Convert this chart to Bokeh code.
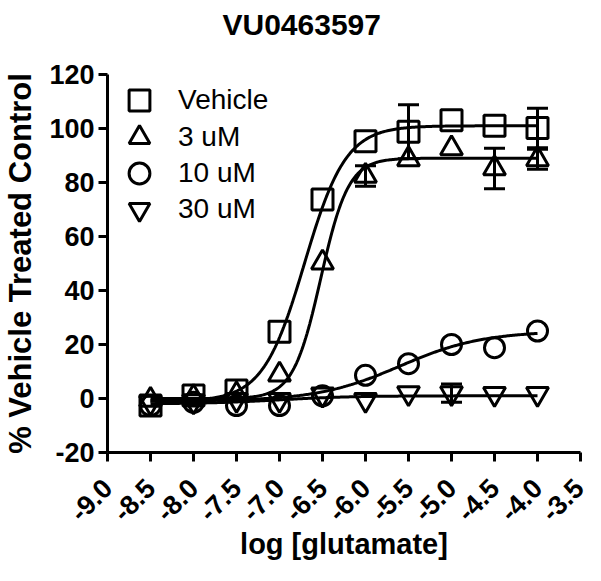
import numpy as np
from bokeh.plotting import figure
from bokeh.models import (ColumnDataSource, FixedTicker, Whisker, TeeHead, Legend,
                          LegendItem, Range1d, Title)
from bokeh.embed import file_html
from bokeh.resources import INLINE

# ---- data ----
log_glu = [-8.5, -8.0, -7.5, -7.0, -6.5, -6.0, -5.5, -5.0, -4.5, -4.0]
vehicle = [-2.6, 1.1, 3.0, 24.7, 73.7, 95.3, 98.8, 103.1, 101.0, 100.2]
vehicle_err = [0, 0, 0, 0, 0, 0, 10.0, 0, 0, 7.3]
um3 = [-0.5, 0.5, 1.5, 8.8, 50.3, 82.4, 88.6, 92.6, 85.2, 88.6]
um3_err = [0, 0, 0, 0, 0, 3.8, 0, 0, 7.5, 3.7]
um10 = [-2.6, -1.4, -2.6, -2.6, 1.0, 8.6, 12.9, 20.0, 18.8, 25.0]
um10_err = [0] * 10
um30 = [-1.5, -1.0, -0.5, -0.5, 1.5, -0.5, 2.0, 2.0, 1.7, 1.7]
um30_err = [0, 0, 0, 0, 0, 0, 0, 3.4, 0, 0]

series_names = ["Vehicle", "3 uM", "10 uM", "30 uM"]
# 4-parameter logistic fit parameters: bottom, top, logEC50, hill
fit_bottom = [-1.0, 0.0, -1.0, -2.0]
fit_top = [101.0, 89.0, 25.0, 1.0]
fit_logec50 = [-6.71, -6.52, -5.6, -7.0]
fit_hill = [1.8, 2.7, 0.9, 1.0]

x_ticks = [-9.0, -8.5, -8.0, -7.5, -7.0, -6.5, -6.0, -5.5, -5.0, -4.5, -4.0, -3.5]
x_tick_labels = ["-9.0", "-8.5", "-8.0", "-7.5", "-7.0", "-6.5", "-6.0", "-5.5",
                 "-5.0", "-4.5", "-4.0", "-3.5"]
y_ticks = [-20, 0, 20, 40, 60, 80, 100, 120]
y_tick_labels = ["-20", "0", "20", "40", "60", "80", "100", "120"]

title_text = "VU0463597"
x_label_text = "log [glutamate]"
y_label_text = "% Vehicle Treated Control"

FONT = "Liberation Sans"

p = figure(width=585, height=565, output_backend="svg", toolbar_location=None,
           x_range=Range1d(-9.0, -3.5), y_range=Range1d(-20, 120),
           min_border_left=99, min_border_right=5, min_border_top=74,
           min_border_bottom=113)
p.outline_line_color = None
p.grid.visible = False
p.background_fill_color = "white"

# spacer between frame and title (pushes the title up)
p.add_layout(Title(text=" ", text_font=FONT, text_font_size="27px", standoff=2),
             "above")
p.title.text = title_text
p.title.text_font = FONT
p.title.text_font_size = "30px"
p.title.text_font_style = "bold"
p.title.text_color = "black"
p.title.align = "left"
p.title.offset = 115
p.title.standoff = 0

for ax in (p.xaxis[0], p.yaxis[0]):
    ax.axis_line_width = 3
    ax.axis_line_color = "black"
    ax.major_tick_line_width = 3
    ax.major_tick_line_color = "black"
    ax.major_tick_out = 9
    ax.major_tick_in = 0
    ax.minor_tick_line_color = None
    ax.major_label_text_font = FONT
    ax.major_label_text_font_style = "bold"
    ax.major_label_text_font_size = "27px"
    ax.major_label_text_color = "black"
    ax.axis_label_text_font = FONT
    ax.axis_label_text_font_style = "bold"
    ax.axis_label_text_color = "black"

p.xaxis.ticker = FixedTicker(ticks=x_ticks)
p.xaxis.major_label_overrides = dict(zip(x_ticks, x_tick_labels))
p.xaxis.major_label_orientation = np.pi / 4
p.xaxis.major_label_standoff = 22
p.xaxis.axis_label = x_label_text
p.xaxis.axis_label_text_font_size = "29px"
p.xaxis.axis_label_standoff = -5

p.yaxis.ticker = FixedTicker(ticks=y_ticks)
p.yaxis.major_label_overrides = dict(zip(y_ticks, y_tick_labels))
p.yaxis.major_label_standoff = 4
p.yaxis.axis_label = y_label_text
p.yaxis.axis_label_text_font_size = "31px"
p.yaxis.axis_label_standoff = 8

values = [vehicle, um3, um10, um30]
errors = [vehicle_err, um3_err, um10_err, um30_err]
markers = ["square", "triangle", "circle", "inverted_triangle"]
sizes = [21, 22, 20, 22]
# legend rows: bottom-left corner of each one-item legend, px from frame bottom-left
legend_rows = [(6, 326), (6, 289), (6, 253), (6, 217)]

xc = np.linspace(log_glu[0], log_glu[-1], 300)
for i, name in enumerate(series_names):
    xs = [x for x, e in zip(log_glu, errors[i]) if e > 0]
    if xs:
        ys = [y for y, e in zip(values[i], errors[i]) if e > 0]
        es = [e for e in errors[i] if e > 0]
        wsrc = ColumnDataSource(dict(x=xs, upper=[y + e for y, e in zip(ys, es)],
                                     lower=[y - e for y, e in zip(ys, es)]))
        w = Whisker(source=wsrc, base="x", upper="upper", lower="lower",
                    line_width=3, line_color="black",
                    upper_head=TeeHead(size=21, line_width=3, line_color="black"),
                    lower_head=TeeHead(size=21, line_width=3, line_color="black"))
        p.add_layout(w)
    src = ColumnDataSource(dict(x=log_glu, y=values[i]))
    r = p.scatter("x", "y", source=src, marker=markers[i], size=sizes[i],
                  fill_color=None, line_color="black", line_width=3)
    yc = fit_bottom[i] + (fit_top[i] - fit_bottom[i]) / (
        1 + 10 ** ((fit_logec50[i] - xc) * fit_hill[i]))
    p.line(xc, yc, line_color="black", line_width=3)
    lg = Legend(items=[LegendItem(label=name, renderers=[r])],
                location=legend_rows[i], glyph_width=52, glyph_height=52,
                padding=0, margin=0, label_standoff=13, label_text_font=FONT,
                label_text_font_size="28px", label_text_color="black",
                label_text_baseline="middle", border_line_color=None,
                background_fill_alpha=0)
    p.add_layout(lg)

open("out.html", "w").write(file_html(p, INLINE))
